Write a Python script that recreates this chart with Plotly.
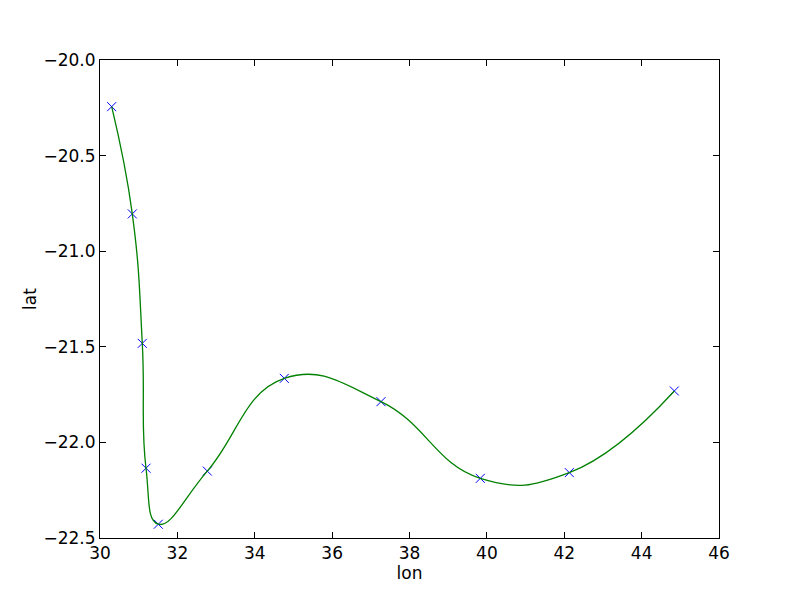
import plotly.graph_objects as go

lon = [30.302, 30.835, 31.093, 31.189, 31.507, 32.774, 34.764, 37.263, 39.830, 42.131, 44.845]
lat = [-20.244, -20.805, -21.482, -22.135, -22.428, -22.150, -21.665, -21.787, -22.188, -22.158, -21.731]

x_ticks = [30, 32, 34, 36, 38, 40, 42, 44, 46]
y_ticks = [-20.0, -20.5, -21.0, -21.5, -22.0, -22.5]

fig = go.Figure()
fig.add_trace(go.Scatter(
    x=lon, y=lat, mode="markers",
    marker=dict(symbol="x-thin", size=9, line=dict(color="#0000ff", width=1)),
    showlegend=False, cliponaxis=False,
))
fig.add_trace(go.Scatter(
    x=lon, y=lat, mode="lines",
    line=dict(color="#008000", width=1.3, shape="spline", smoothing=1.3),
    showlegend=False,
))

axis_common = dict(
    showline=True, linecolor="black", linewidth=1, mirror="ticks",
    ticks="inside", ticklen=6, tickwidth=1, tickcolor="black",
    showgrid=False, zeroline=False,
    tickfont=dict(family="DejaVu Sans", size=17, color="black"),
)
fig.update_xaxes(range=[30, 46], tickvals=x_ticks, ticktext=[str(v) for v in x_ticks],
                 title=dict(text="lon", font=dict(family="DejaVu Sans", size=17, color="black"), standoff=4),
                 **axis_common)
fig.update_yaxes(range=[-22.5, -20.0], tickvals=y_ticks, ticktext=["\u2212%.1f" % (-v) for v in y_ticks],
                 title=dict(text="lat", font=dict(family="DejaVu Sans", size=17, color="black"), standoff=2),
                 **axis_common)
fig.update_layout(
    width=800, height=600,
    margin=dict(l=92, r=89, t=52, b=70, autoexpand=False),
    paper_bgcolor="white", plot_bgcolor="white",
)
fig.write_html("out.html")
